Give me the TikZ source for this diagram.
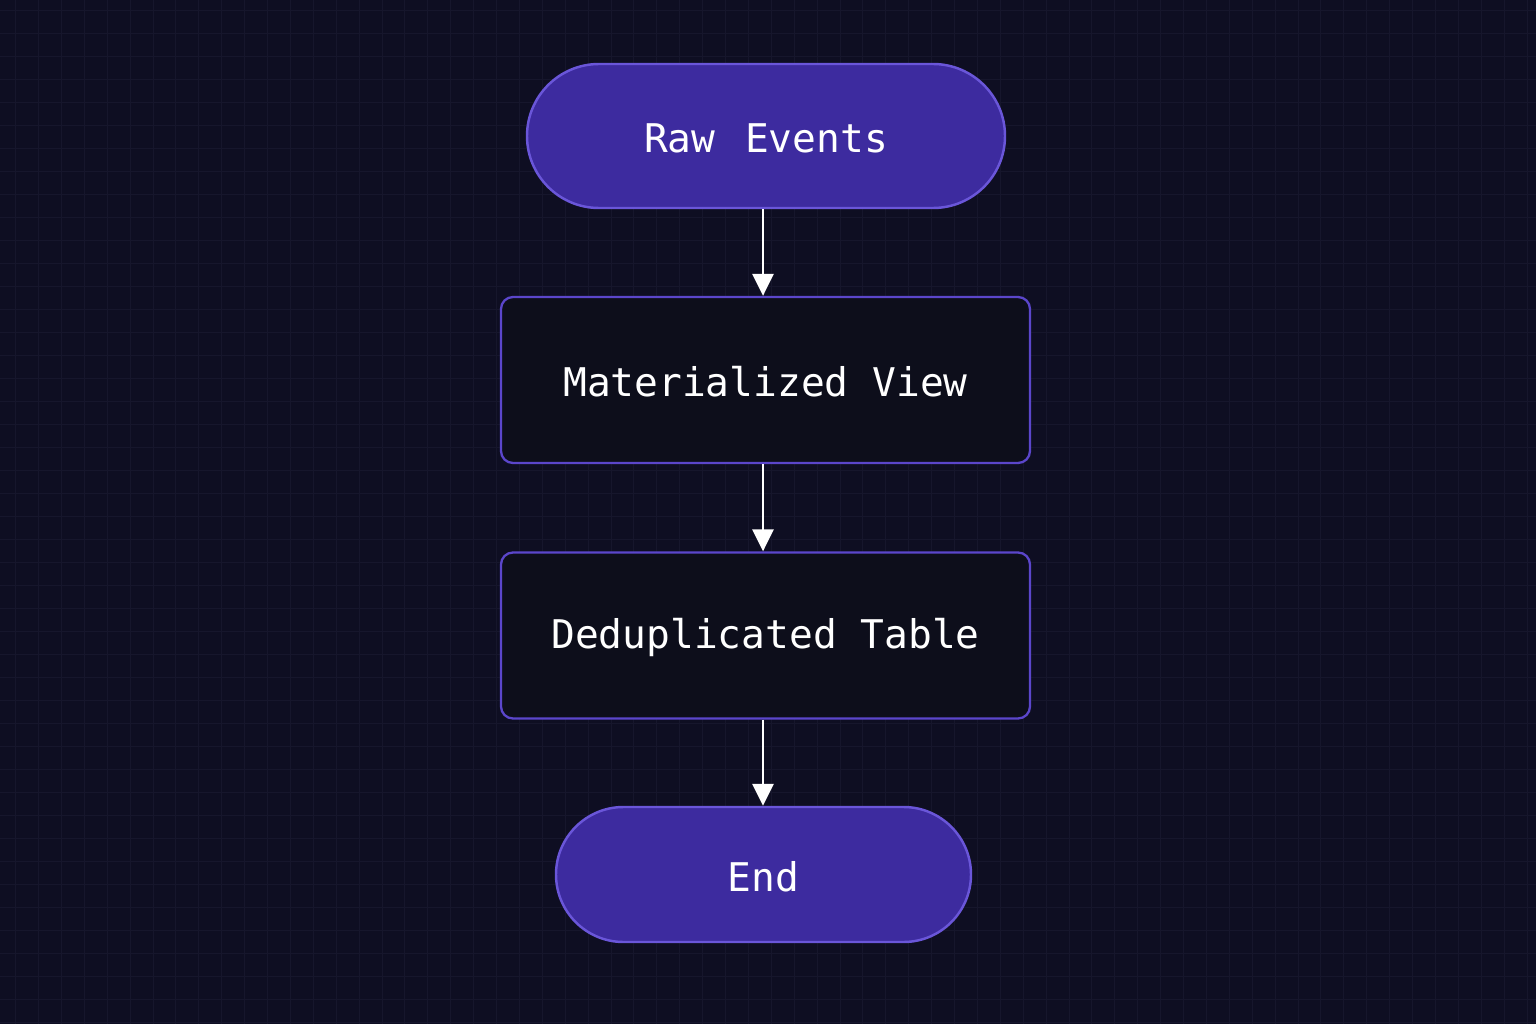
\documentclass[tikz,border=0pt]{standalone}
\usepackage{fontspec}
\newfontfamily\monofont{DejaVu Sans Mono}
\usetikzlibrary{arrows.meta,shapes.misc}
\definecolor{bgc}{HTML}{0E0E22}
\definecolor{gridc}{HTML}{16162C}
\definecolor{pillfill}{HTML}{3D2B9F}
\definecolor{pilledge}{HTML}{6A56D9}
\definecolor{boxfill}{HTML}{0D0E1B}
\definecolor{boxedge}{HTML}{5B46CB}
\begin{document}
\begin{tikzpicture}[x=0.02cm,y=-0.02cm,
  pill/.style={rounded rectangle, draw=pilledge, fill=pillfill, line width=1.4pt,
    text=white, font=\monofont\fontsize{22.5}{26}\selectfont, inner sep=0pt},
  procbox/.style={rectangle, rounded corners=0.24cm, draw=boxedge, fill=boxfill, line width=1.3pt,
    text=white, font=\monofont\fontsize{22.5}{26}\selectfont, inner sep=0pt,
    minimum width=529*0.02cm, minimum height=166*0.02cm},
  flow/.style={draw=white, line width=1.6pt, -{Triangle[length=0.44cm,width=0.42cm]}}]
\fill[bgc] (0,0) rectangle (1536,1024);
\useasboundingbox (0,0) rectangle (1536,1024);
\foreach \i in {0,...,66} {
  \draw[gridc, line width=0.5pt] ({15.6+22.9*\i},0) -- ({15.6+22.9*\i},1024);
}
\foreach \j in {0,...,44} {
  \draw[gridc, line width=0.5pt] (0,{10+23.0*\j}) -- (1536,{10+23.0*\j});
}
\node[pill, minimum width=478*0.02cm, minimum height=144*0.02cm] (raw) at (766,136) {};
\node[text=white, font=\monofont\fontsize{22.5}{26}\selectfont] (rawt) at (raw.center) [yshift=-0.04cm] {Raw\hspace{0.12cm} Events};
\node[procbox] (mv) at (765.5,380) {};
\node[text=white, font=\monofont\fontsize{22.5}{26}\selectfont] (mvt) at (mv.center) [yshift=-0.04cm] {Materialized View};
\node[procbox] (dt) at (765.5,635.5) {};
\node[text=white, font=\monofont\fontsize{22.5}{26}\selectfont] (dtt) at (dt.center) [yshift=-0.04cm] {Deduplicated Table};
\node[pill, minimum width=415*0.02cm, minimum height=135*0.02cm] (end) at (763.5,874.5) {};
\node[text=white, font=\monofont\fontsize{22.5}{26}\selectfont] (endt) at (end.center) [yshift=-0.04cm] {End};
\draw[flow] (raw.south -| 763,0) -- (mv.north -| 763,0);
\draw[flow] (mv.south -| 763,0) -- (dt.north -| 763,0);
\draw[flow] (dt.south -| 763,0) -- (end.north -| 763,0);
\end{tikzpicture}
\end{document}
